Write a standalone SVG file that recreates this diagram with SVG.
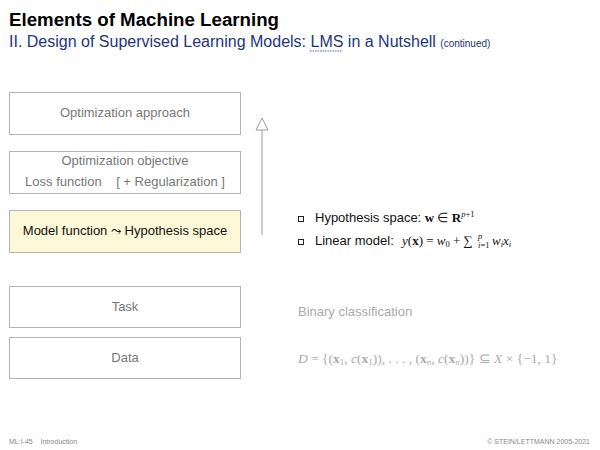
<svg xmlns="http://www.w3.org/2000/svg" width="600" height="450" viewBox="0 0 600 450">
<style>
.box{fill:#fff;stroke:#b4b4b4;stroke-width:1}
.hl{fill:#fdf8d8;stroke:#b4b4b4;stroke-width:1}
.t{font-family:"Liberation Sans",Arial,sans-serif;font-size:13px;fill:#777;text-anchor:middle}
.tb{font-family:"Liberation Sans",Arial,sans-serif;font-size:13px;fill:#111;text-anchor:middle}
.s{font-family:"Liberation Sans",Arial,sans-serif;font-size:13px;fill:#111}
.m{font-family:"Liberation Serif","Times New Roman",serif;font-size:13px;fill:#111}
.ms{font-family:"Liberation Serif","Times New Roman",serif;font-size:8.5px;fill:#111}
.ft{font-family:"Liberation Sans",Arial,sans-serif;font-size:7px;fill:#888}
</style>
<rect width="600" height="450" fill="#fff"/>
<text x="9" y="26" font-family="Liberation Sans,Arial,sans-serif" font-size="18.7" font-weight="bold" fill="#000">Elements of Machine Learning</text>
<text x="9" y="47" font-family="Liberation Sans,Arial,sans-serif" font-size="16" fill="#23357a">II. Design of Supervised Learning Models: LMS in a Nutshell <tspan font-size="10">(continued)</tspan></text>
<line x1="310" y1="51" x2="342" y2="51" stroke="#23357a" stroke-width="0.8" stroke-dasharray="1.5,1"/>
<g id="opt-approach"><rect class="box" x="9.5" y="92.5" width="231" height="42"/><text class="t" x="125" y="117">Optimization approach</text></g>
<g id="opt-objective"><rect class="box" x="9.5" y="151.5" width="231" height="42"/><text class="t" x="125" y="165">Optimization objective</text><text class="t" x="125" y="186" xml:space="preserve">Loss function    [ + Regularization ]</text></g>
<g id="model-function"><rect class="hl" x="9.5" y="210.5" width="231" height="42"/><text class="tb" x="125" y="235">Model function ⤳ Hypothesis space</text></g>
<g id="task"><rect class="box" x="9.5" y="286.5" width="231" height="41"/><text class="t" x="125" y="311">Task</text></g>
<g id="data"><rect class="box" x="9.5" y="337.5" width="231" height="41"/><text class="t" x="125" y="362">Data</text></g>
<g id="connectors">
<line x1="262" y1="235" x2="262" y2="130" stroke="#aaa" stroke-width="1.2"/>
<polygon points="262,118 256,130 268,130" fill="#fff" stroke="#999" stroke-width="1"/>
</g>
<g id="bullets">
<rect x="298.5" y="216.5" width="5" height="5" fill="#fff" stroke="#222" stroke-width="1"/>
<rect x="298.5" y="239.5" width="5" height="5" fill="#fff" stroke="#222" stroke-width="1"/>
<text class="s" x="315" y="222">Hypothesis space: <tspan class="m" font-weight="bold">w</tspan><tspan class="m"> ∈ </tspan><tspan class="m" font-weight="bold">R</tspan><tspan class="ms" font-style="italic" dy="-5">p</tspan><tspan class="ms">+1</tspan></text>
<text class="s" x="315" y="245">Linear model:</text>
<text class="m" x="402" y="245"><tspan font-style="italic">y</tspan>(<tspan font-weight="bold">x</tspan>) = <tspan font-style="italic">w</tspan><tspan class="ms" dy="2">0</tspan><tspan dy="-2"> + ∑</tspan></text>
<text class="ms" x="478" y="239" font-style="italic">p</text>
<text class="ms" x="478" y="248"><tspan font-style="italic">i</tspan>=1</text>
<text class="m" x="492" y="245" font-style="italic">w<tspan class="ms" dy="2">i</tspan><tspan dy="-2">x</tspan><tspan class="ms" dy="2">i</tspan></text>
</g>
<text x="298" y="316" font-family="Liberation Sans,Arial,sans-serif" font-size="13" fill="#aaa">Binary classification</text>
<text x="298" y="363" font-family="Liberation Serif,Times New Roman,serif" font-size="13.5" fill="#aaa"><tspan font-style="italic">D</tspan> = {(<tspan font-weight="bold">x</tspan><tspan font-size="9" dy="2">1</tspan><tspan dy="-2">, </tspan><tspan font-style="italic">c</tspan>(<tspan font-weight="bold">x</tspan><tspan font-size="9" dy="2">1</tspan><tspan dy="-2">)), . . . , (</tspan><tspan font-weight="bold">x</tspan><tspan font-size="9" dy="2" font-style="italic">n</tspan><tspan dy="-2">, </tspan><tspan font-style="italic">c</tspan>(<tspan font-weight="bold">x</tspan><tspan font-size="9" dy="2" font-style="italic">n</tspan><tspan dy="-2">))} ⊆ </tspan><tspan font-style="italic">X</tspan> × {−1, 1}</text>
<text class="ft" x="9" y="444" xml:space="preserve">ML:I-45    Introduction</text>
<text class="ft" x="590" y="444" text-anchor="end">© STEIN/LETTMANN 2005-2021</text>
</svg>
